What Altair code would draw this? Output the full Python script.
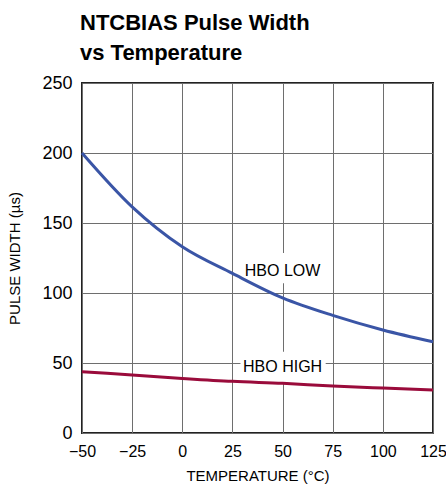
import altair as alt
import pandas as pd

# Temperature sweep (°C) and measured NTCBIAS pulse width (µs)
temps = [-50, -25, 0, 25, 50, 75, 100, 125]
hbo_low = [200, 161.5, 133, 114, 96.5, 84, 73.6, 65.2]
hbo_high = [43.8, 41.4, 39.0, 36.9, 35.5, 33.6, 32.1, 30.7]

series_names = ["HBO LOW", "HBO HIGH"]
series_colors = ["#3a55a6", "#9a0b3b"]

x_ticks = [-50, -25, 0, 25, 50, 75, 100, 125]
y_ticks = [0, 50, 100, 150, 200, 250]

FONT = "Liberation Sans, Arial, sans-serif"

rows = []
for t, lo, hi in zip(temps, hbo_low, hbo_high):
    rows.append({"temp": t, "width": lo, "series": "HBO LOW"})
    rows.append({"temp": t, "width": hi, "series": "HBO HIGH"})
df = pd.DataFrame(rows)

x_scale = alt.Scale(domain=[-50, 125], nice=False, zero=False)
y_scale = alt.Scale(domain=[0, 250], nice=False)

x_axis = alt.Axis(
    values=x_ticks, title="TEMPERATURE (°C)", grid=True, ticks=False,
    labelPadding=10, titlePadding=9, format="d", labelFontSize=16,
    labelFlush=False, labelOverlap=False,
    labelExpr="replace(datum.label, '-', '\u2212')",
)
y_axis = alt.Axis(
    values=y_ticks, title="PULSE WIDTH (µs)", grid=True, ticks=False,
    labelPadding=10, labelFlush=False, labelOverlap=False, titlePadding=19,
)

lines = alt.Chart(df).mark_line(strokeWidth=3, interpolate="monotone").encode(
    x=alt.X("temp:Q", scale=x_scale, axis=x_axis),
    y=alt.Y("width:Q", scale=y_scale, axis=y_axis),
    color=alt.Color("series:N", scale=alt.Scale(domain=series_names, range=series_colors), legend=None),
    detail="series:N",
)

# label callouts: white box under each curve name
labels = pd.DataFrame({
    "series": series_names,
    "x": [50, 50],
    "y": [115.5, 47],
    "x0": [29, 29],
    "x1": [70, 71.5],
    "y0": [107, 36.5],
    "y1": [128.5, 58],
})

boxes = alt.Chart(labels).mark_rect(color="white").encode(
    x=alt.X("x0:Q", scale=x_scale), x2="x1:Q",
    y=alt.Y("y0:Q", scale=y_scale), y2="y1:Q",
)

texts = alt.Chart(labels).mark_text(font=FONT, fontSize=16, color="black").encode(
    x=alt.X("x:Q", scale=x_scale),
    y=alt.Y("y:Q", scale=y_scale),
    text="series:N",
)

chart = alt.layer(boxes, lines, texts).properties(
    width=351, height=350,
    title=alt.TitleParams(
        text=["NTCBIAS Pulse Width", "vs Temperature"],
        anchor="start", frame="group", font=FONT, fontSize=22, fontWeight="bold",
        lineHeight=30, offset=9, dx=-2, color="black",
    ),
    autosize=alt.AutoSizeParams(type="none"),
    padding={"left": 82, "top": 83, "right": 13, "bottom": 54},
).configure_view(
    stroke="#222222", strokeWidth=2,
).configure_axis(
    gridColor="#6e6e6e", gridWidth=1, gridOpacity=1,
    domain=False,
    labelFont=FONT, labelFontSize=18, labelColor="black",
    titleFont=FONT, titleFontSize=15, titleFontWeight="normal", titleColor="black",
)

chart.save("out.html", embed_options={"renderer": "svg", "actions": False})
